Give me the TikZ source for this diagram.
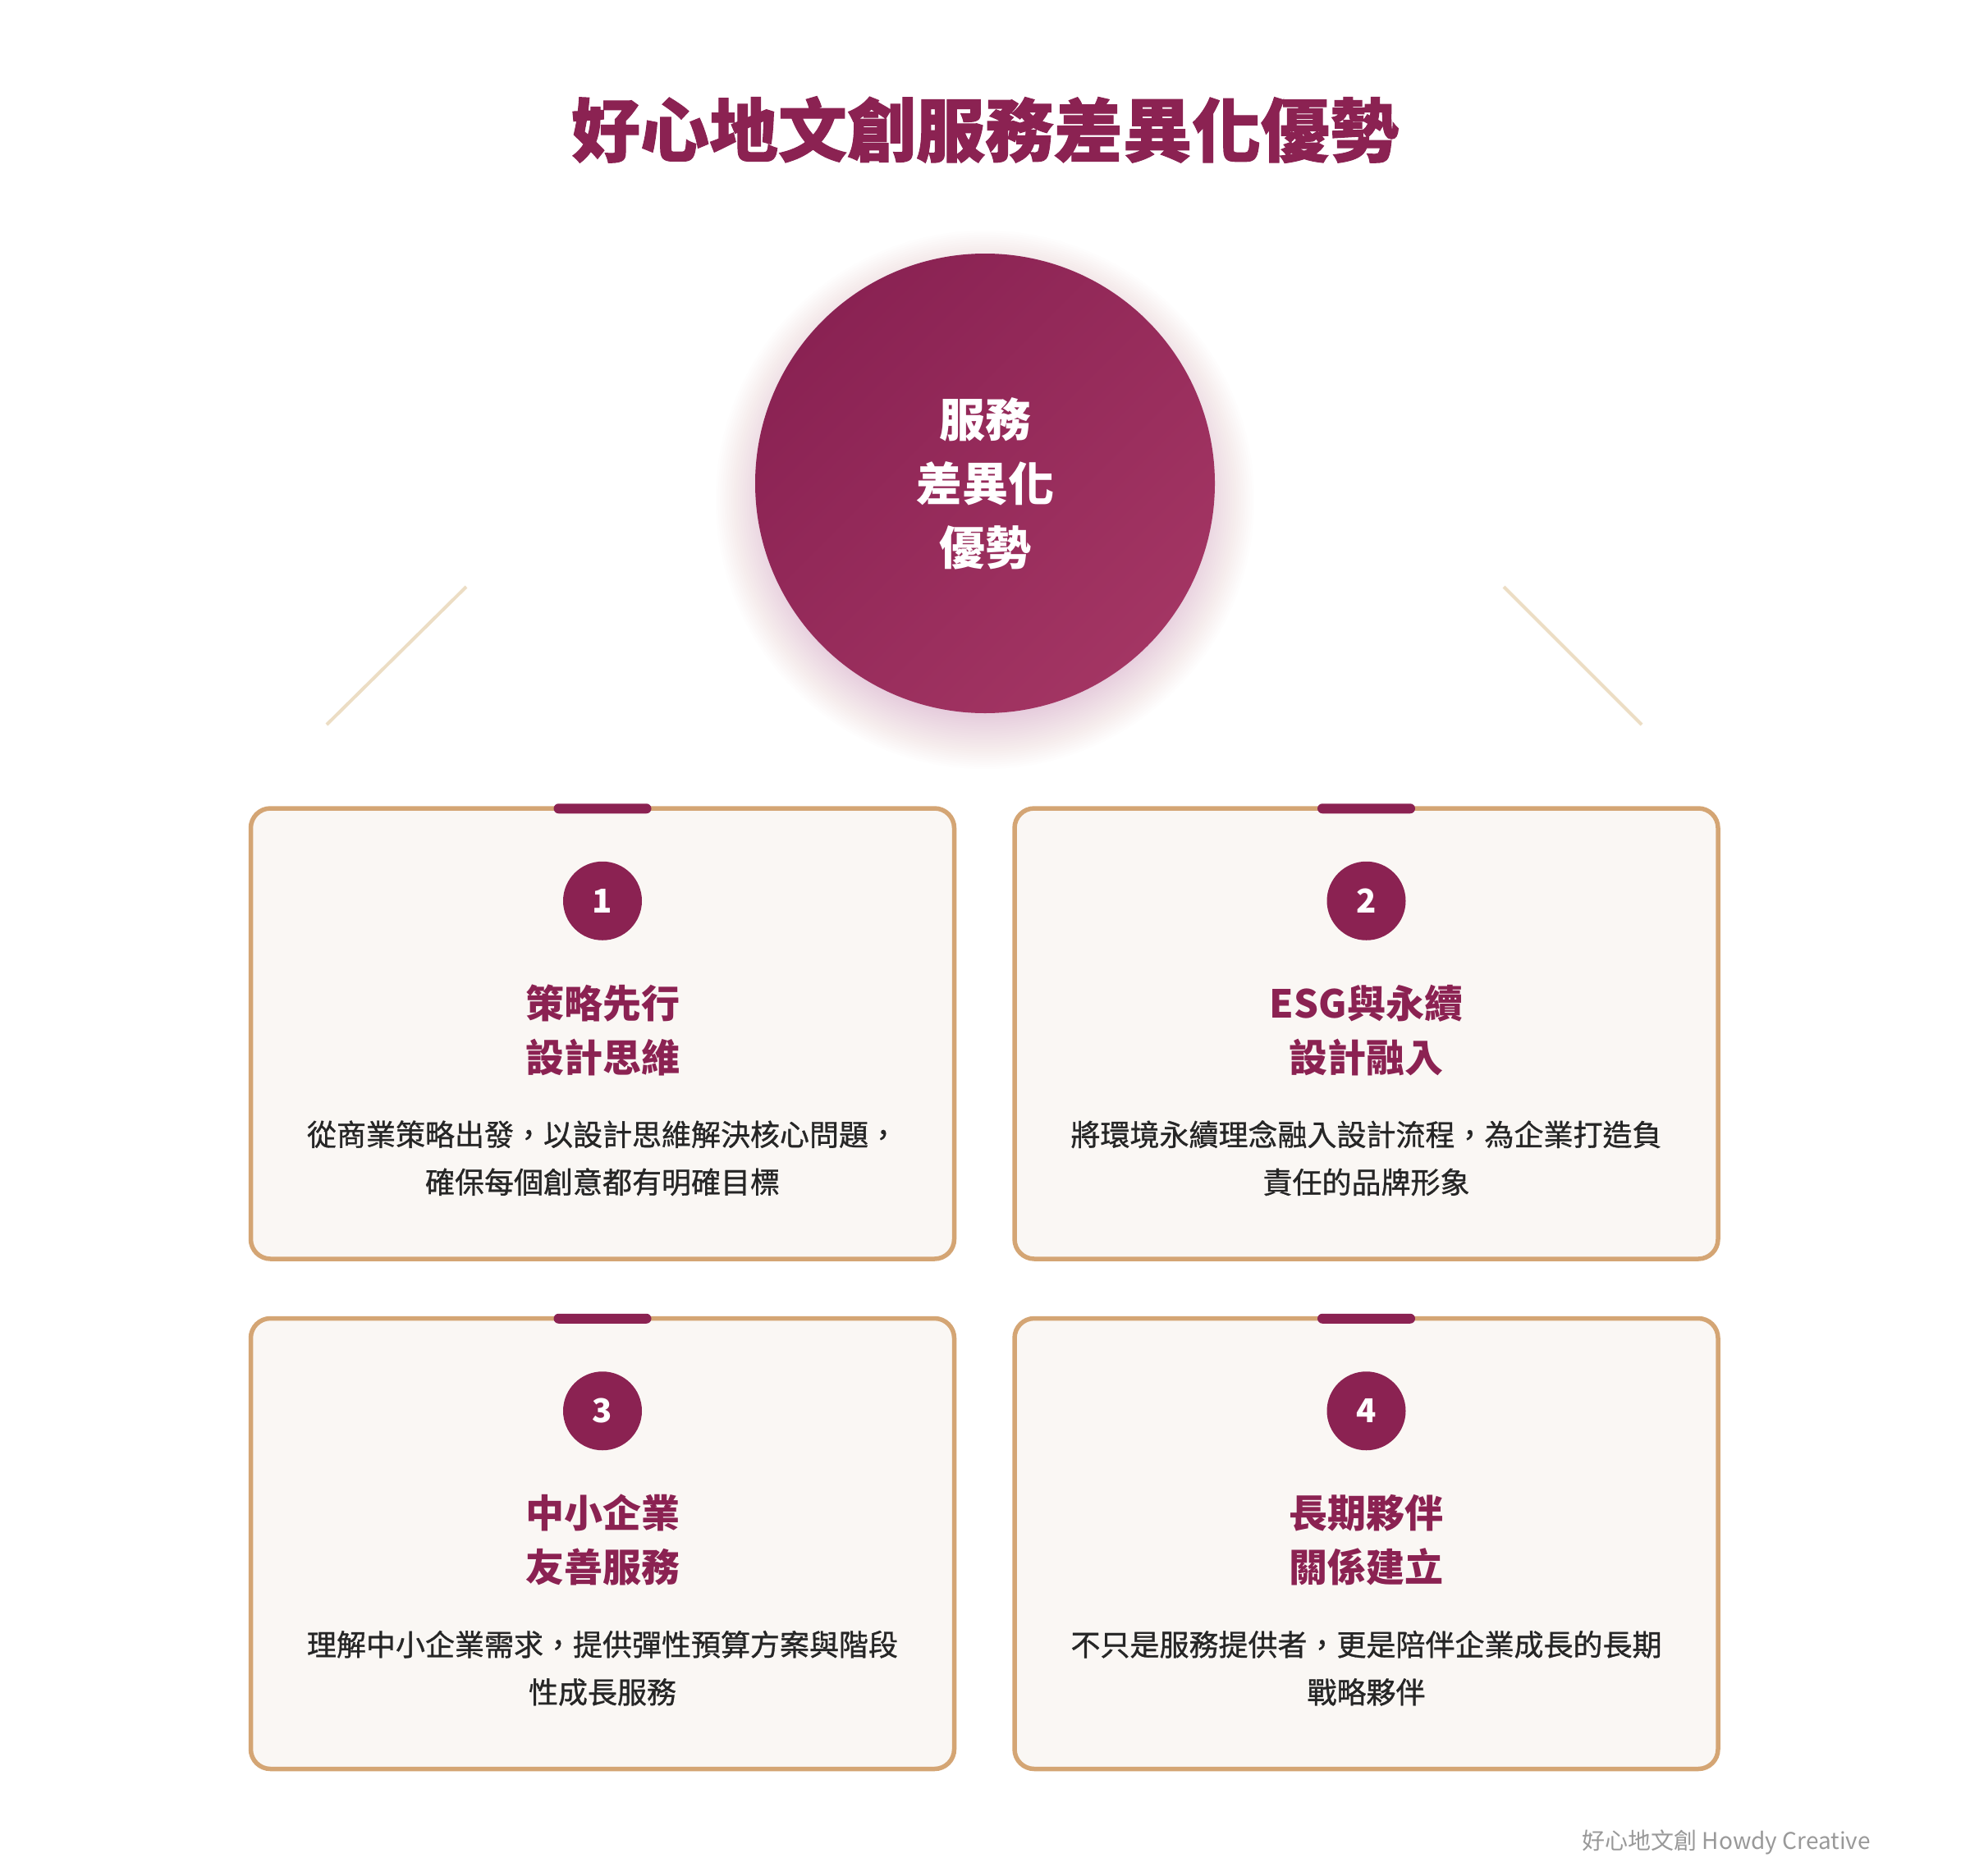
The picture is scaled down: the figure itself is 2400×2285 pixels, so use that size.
\documentclass[tikz,border=0pt]{standalone}
\usepackage{fontspec}
\setmainfont{Noto Sans CJK TC}
\newfontfamily\descfont{Noto Sans CJK TC}[FakeBold=0.9]
\newfontfamily\titlefont{Noto Sans CJK TC}[BoldFeatures={FakeBold=1.2}]
\usetikzlibrary{calc}
\definecolor{maroon}{HTML}{8B2252}
\definecolor{hubA}{HTML}{8A2253}
\definecolor{hubB}{HTML}{A33563}
\definecolor{tan}{HTML}{D4A574}
\definecolor{cardbg}{HTML}{FAF7F4}
\definecolor{decoline}{HTML}{ECDDC4}
\definecolor{desctext}{HTML}{262626}
\definecolor{footgray}{HTML}{999999}
\definecolor{shadowpink}{HTML}{B0406E}
\newcommand\mycard[6]{%
  \node[cardbox] (#1) at (#2,#3) {};
  \node[topbar] (#1bar) at ($(#1.north)+(0,3)$) {};
  \node[numcirc] (#1num) at ($(#1.north)+(0,115.5)$) {#4};
  \node[heading] (#1head) at ($(#1.north)+(0,273)$) {#5};
  \node[desc] (#1desc) at ($(#1.north)+(0,429)$) {#6};
}
\begin{document}
\begin{tikzpicture}[x=1pt,y=-1pt,
  titlestyle/.style={inner sep=0pt, text=maroon, font=\fontsize{84}{100}\selectfont\titlefont\bfseries},
  hub/.style={circle, minimum size=560, inner sep=0pt, top color=hubA, bottom color=hubB, shading angle=45,
    text=white, align=center, font=\fontsize{56}{78}\selectfont\bfseries},
  hubshadow/.style={fill=shadowpink, opacity=0.008},
  deco/.style={draw=decoline, line width=4pt},
  cardbox/.style={draw=tan, line width=5.5pt, fill=cardbg, rounded corners=24pt, minimum width=857, minimum height=549, inner sep=0pt},
  topbar/.style={fill=maroon, rounded corners=6pt, minimum width=119, minimum height=12, inner sep=0pt},
  numcirc/.style={circle, fill=maroon, minimum size=96, inner sep=0pt, text=white, font=\fontsize{40}{46}\selectfont\bfseries},
  heading/.style={align=center, text=maroon, inner sep=0pt, font=\fontsize{47}{66}\selectfont\bfseries},
  desc/.style={align=center, text=desctext, inner sep=0pt, font=\fontsize{36}{58}\selectfont\descfont},
  foot/.style={anchor=east, inner sep=0pt, text=footgray, font=\fontsize{28}{32}\selectfont}
]
\fill[white] (0,0) rectangle (2400,2285);
\useasboundingbox (0,0) rectangle (2400,2285);

\node[titlestyle] (title) at (1200,158) {好心地文創服務差異化優勢};

\coordinate (shc) at (1200,609);
\foreach \i in {1,...,26} {
  \fill[hubshadow] (shc) circle ({258+\i*2.7});
}
\node[hub] (hub) at (1200,589) {服務\\差異化\\優勢};

\coordinate (dl1) at (568,715);
\coordinate (dl2) at (398,883);
\coordinate (dr1) at (1832,715);
\coordinate (dr2) at (2000,883);
\draw[deco] (dl1) -- (dl2);
\draw[deco] (dr1) -- (dr2);

\mycard{c1}{734}{1259.5}{1}{策略先行\\設計思維}{從商業策略出發，以設計思維解決核心問題，\\確保每個創意都有明確目標}
\mycard{c2}{1664.5}{1259.5}{2}{ESG與永續\\設計融入}{將環境永續理念融入設計流程，為企業打造負\\責任的品牌形象}
\mycard{c3}{734}{1881}{3}{中小企業\\友善服務}{理解中小企業需求，提供彈性預算方案與階段\\性成長服務}
\mycard{c4}{1664.5}{1881}{4}{長期夥伴\\關係建立}{不只是服務提供者，更是陪伴企業成長的長期\\戰略夥伴}

\node[foot] (footer) at (2279,2245) {好心地文創 Howdy Creative};
\end{tikzpicture}
\end{document}
